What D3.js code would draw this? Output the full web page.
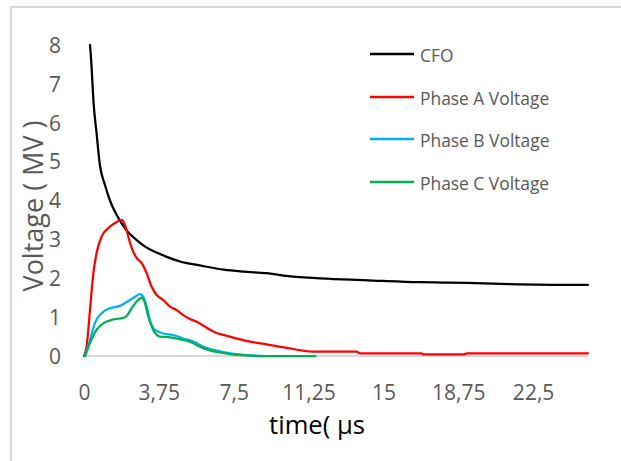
<!DOCTYPE html>
<html>
<head>
<meta charset="utf-8">
<script src="https://cdn.jsdelivr.net/npm/d3@7"></script>
<style>
  html, body { margin: 0; padding: 0; background: #fff; }
  svg { display: block; font-family: "Open Sans", "Liberation Sans", sans-serif; }
</style>
</head>
<body>
<svg id="chart" width="621" height="461"></svg>
<script>
// ---- data ----
const xTicks = [0, 3.75, 7.5, 11.25, 15, 18.75, 22.5];
const xTickLabels = ["0", "3,75", "7,5", "11,25", "15", "18,75", "22,5"];
const yTicks = [0, 1, 2, 3, 4, 5, 6, 7, 8];

const seriesNames = ["CFO", "Phase A Voltage", "Phase B Voltage", "Phase C Voltage"];
const seriesColors = ["#000000", "#ff0000", "#00b0f0", "#00b050"];

const cfoTime = [0.3, 0.34, 0.38, 0.47, 0.63, 0.8, 1.05, 1.3, 1.7, 2.1, 2.64, 3.1, 3.64, 4.15, 4.81, 5.8, 7.0, 8.0, 9.15, 10.0, 11.0, 12.5, 14.0, 15.0, 16.8, 18.0, 19.2, 20.5, 21.8, 23.5, 25.25];
const cfoVolt = [8.0, 7.75, 7.43, 6.58, 5.73, 4.9, 4.4, 4.0, 3.57, 3.25, 2.98, 2.8, 2.66, 2.55, 2.43, 2.33, 2.22, 2.17, 2.13, 2.07, 2.02, 1.98, 1.95, 1.93, 1.9, 1.89, 1.88, 1.86, 1.84, 1.83, 1.83];

const phaseATime = [0, 0.13, 0.3, 0.47, 0.63, 0.88, 1.22, 1.64, 1.89, 2.05, 2.22, 2.39, 2.64, 2.89, 3.14, 3.39, 3.64, 3.97, 4.31, 4.64, 4.97, 5.31, 5.65, 5.98, 6.47, 7.31, 8.32, 9.15, 10.15, 11.5, 13.66, 13.83, 16.9, 17.0, 19.0, 19.2, 21.0, 25.25];
const phaseAVolt = [0, 0.24, 1.18, 2.13, 2.65, 3.07, 3.29, 3.45, 3.5, 3.37, 3.07, 2.78, 2.52, 2.39, 2.13, 1.78, 1.57, 1.44, 1.27, 1.18, 1.05, 0.95, 0.88, 0.78, 0.63, 0.5, 0.37, 0.3, 0.21, 0.11, 0.11, 0.07, 0.07, 0.04, 0.04, 0.07, 0.07, 0.07];

const phaseBTime = [0.05, 0.3, 0.55, 0.88, 1.3, 1.8, 2.05, 2.3, 2.55, 2.8, 2.97, 3.14, 3.3, 3.56, 3.97, 4.47, 4.97, 5.48, 5.98, 6.65, 7.31, 8.0, 9.0];
const phaseBVolt = [0, 0.41, 0.85, 1.1, 1.23, 1.29, 1.36, 1.44, 1.52, 1.59, 1.52, 1.27, 0.93, 0.67, 0.58, 0.54, 0.45, 0.37, 0.24, 0.14, 0.07, 0.03, 0];

const phaseCTime = [0.05, 0.3, 0.63, 0.97, 1.47, 1.97, 2.14, 2.39, 2.64, 2.89, 3.06, 3.22, 3.47, 3.81, 4.31, 4.81, 5.31, 5.65, 6.15, 6.81, 7.31, 8.0, 8.8, 11.6];
const phaseCVolt = [0, 0.33, 0.67, 0.84, 0.94, 0.98, 1.03, 1.23, 1.4, 1.5, 1.35, 1.01, 0.67, 0.5, 0.48, 0.43, 0.37, 0.28, 0.17, 0.09, 0.05, 0.02, 0, 0];

const xTitle = "time( µs";
const yTitle = "Voltage ( MV )";

// ---- build ----
const series = [
  { name: seriesNames[0], color: seriesColors[0], t: cfoTime, v: cfoVolt },
  { name: seriesNames[1], color: seriesColors[1], t: phaseATime, v: phaseAVolt },
  { name: seriesNames[2], color: seriesColors[2], t: phaseBTime, v: phaseBVolt },
  { name: seriesNames[3], color: seriesColors[3], t: phaseCTime, v: phaseCVolt }
];

const svg = d3.select("#chart");
const plotLeft = 84, plotRight = 588, plotTop = 45, plotBottom = 356;

const x = d3.scaleLinear().domain([0, 25.25]).range([plotLeft, plotRight]);
const y = d3.scaleLinear().domain([0, 8]).range([plotBottom, plotTop]);

// outer frame
svg.append("rect")
  .attr("x", 11).attr("y", 7)
  .attr("width", 700).attr("height", 600)
  .attr("fill", "none")
  .attr("stroke", "#d9d9d9")
  .attr("stroke-width", 2);

// x axis line
svg.append("line")
  .attr("x1", x(0)).attr("x2", x(25.25))
  .attr("y1", y(0)).attr("y2", y(0))
  .attr("stroke", "#d9d9d9")
  .attr("stroke-width", 2);

// x tick labels
const xAxis = d3.axisBottom(x).tickValues(xTicks)
  .tickFormat((d, i) => xTickLabels[i]).tickSize(0).tickPadding(0);
const gx = svg.append("g").attr("transform", `translate(0,${plotBottom})`).call(xAxis);
gx.select(".domain").remove();
gx.selectAll("text")
  .attr("y", 44).attr("dy", null)
  .attr("fill", "#595959")
  .style("font-size", "21px")
  .style("font-family", "'Open Sans', 'Liberation Sans', sans-serif");

// y tick labels
const yAxis = d3.axisLeft(y).tickValues(yTicks).tickSize(0).tickPadding(0);
const gy = svg.append("g").attr("transform", `translate(61,0)`).call(yAxis);
gy.select(".domain").remove();
gy.selectAll("text")
  .attr("x", 0).attr("dy", "0.35em")
  .attr("fill", "#595959")
  .style("font-size", "21px")
  .style("font-family", "'Open Sans', 'Liberation Sans', sans-serif");

// lines
const line = d3.line()
  .x(d => x(d[0]))
  .y(d => y(d[1]))
  .curve(d3.curveMonotoneX);

series.forEach(s => {
  const pts = s.t.map((t, i) => [t, s.v[i]]);
  svg.append("path")
    .datum(pts)
    .attr("d", line)
    .attr("fill", "none")
    .attr("stroke", s.color)
    .attr("stroke-width", 2.25)
    .attr("stroke-linejoin", "round")
    .attr("stroke-linecap", "round");
});

// legend
const legendRows = [54, 97, 139, 182];
series.forEach((s, i) => {
  const ly = legendRows[i];
  svg.append("line")
    .attr("x1", 370).attr("x2", 414)
    .attr("y1", ly).attr("y2", ly)
    .attr("stroke", s.color)
    .attr("stroke-width", 2.5);
  svg.append("text")
    .attr("x", 420).attr("y", ly + 7.5)
    .attr("fill", "#595959")
    .style("font-size", "17.4px")
    .text(s.name);
});

// axis titles
svg.append("text")
  .attr("x", 317).attr("y", 434)
  .attr("text-anchor", "middle")
  .attr("fill", "#000000")
  .style("font-size", "25.6px")
  .text(xTitle);

svg.append("text")
  .attr("transform", "translate(43,206) rotate(-90)")
  .attr("text-anchor", "middle")
  .attr("fill", "#595959")
  .style("font-size", "27px")
  .text(yTitle);
</script>
</body>
</html>
